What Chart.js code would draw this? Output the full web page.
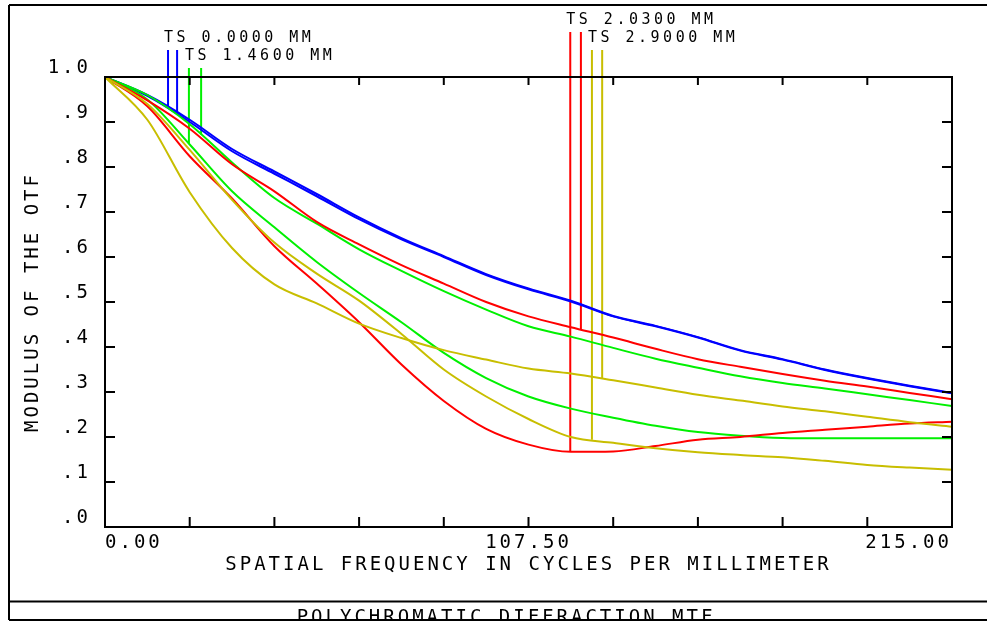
<!DOCTYPE html>
<html>
<head>
<meta charset="utf-8">
<script src="https://cdn.jsdelivr.net/npm/chart.js@4/dist/chart.umd.min.js"></script>
<style>
  html, body { margin: 0; padding: 0; background: #fff; }
  canvas { display: block; }
</style>
</head>
<body>
<canvas id="mtf" width="987" height="626"></canvas>
<script>
// spatial frequency samples (cycles/mm)
var freq = [0, 10.75, 21.5, 32.25, 43, 53.75, 64.5, 75.25, 86, 96.75, 107.5,
            118.25, 129, 139.75, 150.5, 161.25, 172, 182.75, 193.5, 204.25, 215];

// MTF per field, tangential / sagittal
var blueT   = [1.0, 0.96, 0.905, 0.84, 0.79, 0.74, 0.688, 0.642, 0.602, 0.562, 0.53,
               0.503, 0.469, 0.447, 0.422, 0.393, 0.373, 0.35, 0.331, 0.314, 0.298];
var blueS   = [1.0, 0.958, 0.9, 0.835, 0.785, 0.735, 0.684, 0.639, 0.6, 0.56, 0.528,
               0.501, 0.468, 0.446, 0.421, 0.392, 0.372, 0.349, 0.33, 0.313, 0.297];
var greenT  = [1.0, 0.96, 0.895, 0.81, 0.731, 0.674, 0.617, 0.569, 0.524, 0.483, 0.446,
               0.423, 0.398, 0.374, 0.354, 0.335, 0.32, 0.308, 0.295, 0.282, 0.269];
var greenS  = [1.0, 0.95, 0.85, 0.746, 0.666, 0.589, 0.52, 0.455, 0.387, 0.331, 0.29,
               0.263, 0.243, 0.225, 0.211, 0.203, 0.198, 0.197, 0.197, 0.197, 0.197];
var redT    = [1.0, 0.948, 0.885, 0.806, 0.746, 0.678, 0.628, 0.582, 0.541, 0.5, 0.468,
               0.444, 0.421, 0.396, 0.373, 0.356, 0.34, 0.325, 0.312, 0.298, 0.284];
var redS    = [1.0, 0.935, 0.824, 0.73, 0.624, 0.541, 0.455, 0.361, 0.28, 0.218, 0.183,
               0.167, 0.168, 0.18, 0.194, 0.2, 0.209, 0.216, 0.223, 0.23, 0.234];
var yellowT = [1.0, 0.905, 0.744, 0.62, 0.539, 0.497, 0.452, 0.42, 0.393, 0.372, 0.352,
               0.341, 0.326, 0.31, 0.294, 0.281, 0.268, 0.257, 0.245, 0.233, 0.223];
var yellowS = [1.0, 0.94, 0.838, 0.727, 0.632, 0.563, 0.503, 0.429, 0.35, 0.29, 0.24,
               0.2, 0.187, 0.175, 0.166, 0.16, 0.155, 0.147, 0.138, 0.132, 0.127];

// field legend markers
var legendNames = ['TS 0.0000 MM', 'TS 1.4600 MM', 'TS 2.0300 MM', 'TS 2.9000 MM'];
var legendFreqs = [[16.0, 18.3], [21.3, 24.4], [118.1, 120.8], [123.6, 126.2]];
var legendTops  = [1.06, 1.02, 1.10, 1.06];
var legendEnds  = [[0.933, 0.918], [0.852, 0.872], [0.167, 0.439], [0.194, 0.33]];

var xTickLabels = { '0': '0.00', '107.5': '107.50', '215': '215.00' };

var BLUE = 'rgb(0,0,255)', GREEN = 'rgb(0,240,0)', RED = 'rgb(255,0,0)', YELLOW = 'rgb(200,190,0)';
var fieldColors = [BLUE, GREEN, RED, YELLOW];
var MONO = '"DejaVu Sans Mono", "Liberation Mono", monospace';

function pts(vals) {
    return freq.map(function(f, i) { return { x: f, y: vals[i] }; });
}

function curve(vals, color) {
    return {
        data: pts(vals),
        borderColor: color,
        borderWidth: 2,
        pointRadius: 0,
        fill: false,
        cubicInterpolationMode: 'monotone'
    };
}

var datasets = [
    curve(yellowS, YELLOW), curve(yellowT, YELLOW),
    curve(redS, RED), curve(redT, RED),
    curve(greenS, GREEN), curve(greenT, GREEN),
    curve(blueS, BLUE), curve(blueT, BLUE)
];

legendFreqs.forEach(function(pair, k) {
    pair.forEach(function(f, j) {
        datasets.push({
            data: [{ x: f, y: legendTops[k] }, { x: f, y: legendEnds[k][j] }],
            borderColor: fieldColors[k],
            borderWidth: 2,
            pointRadius: 0,
            clip: false
        });
    });
});

var framePlugin = {
    id: 'frame',
    beforeDraw: function(chart) {
        var c = chart.ctx;
        c.save();
        c.fillStyle = '#fff';
        c.fillRect(0, 0, chart.width, chart.height);
        c.restore();
        c.letterSpacing = '3px';
    },
    afterDatasetsDraw: function(chart) {
        var c = chart.ctx, a = chart.chartArea;
        var xs = chart.scales.x, ys = chart.scales.y;
        c.save();
        c.strokeStyle = '#000';
        c.lineWidth = 2;
        c.strokeRect(a.left, a.top, a.right - a.left, a.bottom - a.top);

        c.beginPath();
        for (var i = 1; i < 10; i++) {
            var yp = ys.getPixelForValue(i / 10);
            c.moveTo(a.left, yp); c.lineTo(a.left + 10, yp);
            c.moveTo(a.right, yp); c.lineTo(a.right - 10, yp);
            var xp = xs.getPixelForValue(i * 21.5);
            c.moveTo(xp, a.bottom); c.lineTo(xp, a.bottom - 10);
            c.moveTo(xp, a.top); c.lineTo(xp, a.top + 8);
        }
        c.stroke();

        // field labels
        c.fillStyle = '#000';
        c.font = '15px ' + MONO;
        c.letterSpacing = '3.5px';
        c.textAlign = 'left';
        c.textBaseline = 'middle';
        legendNames.forEach(function(name, k) {
            var x = xs.getPixelForValue(legendFreqs[k][0]) - 4;
            var y = ys.getPixelForValue(legendTops[k]) - 12;
            c.fillText(name, x, y);
        });

        // outer frame and bottom caption box
        c.beginPath();
        c.moveTo(9, 5); c.lineTo(chart.width, 5);
        c.moveTo(9, 5); c.lineTo(9, 620);
        c.moveTo(9, 601.5); c.lineTo(chart.width, 601.5);
        c.moveTo(9, 620); c.lineTo(chart.width, 620);
        c.stroke();

        c.beginPath();
        c.rect(10, 603, chart.width, 16);
        c.clip();
        c.font = '19px ' + MONO;
        c.letterSpacing = '3px';
        c.textAlign = 'center';
        c.textBaseline = 'top';
        c.fillText('POLYCHROMATIC DIFFRACTION MTF', 506, 609);
        c.restore();
    }
};

var ctx = document.getElementById('mtf').getContext('2d');
var chart = new Chart(ctx, {
    type: 'line',
    data: { datasets: datasets },
    options: {
        responsive: false,
        animation: false,
        events: [],
        layout: { padding: { left: 0, right: 35, top: 77, bottom: 0 } },
        plugins: { legend: { display: false }, tooltip: { enabled: false } },
        scales: {
            x: {
                type: 'linear',
                min: 0,
                max: 215,
                afterFit: function(s) { s.height = 99; },
                grid: { display: false, drawTicks: false },
                border: { display: false },
                ticks: {
                    stepSize: 21.5,
                    autoSkip: false,
                    maxRotation: 0,
                    align: 'inner',
                    padding: 5,
                    color: '#000',
                    font: { family: MONO, size: 19 },
                    callback: function(v) {
                        var key = String(Math.round(v * 10) / 10);
                        return xTickLabels[key] || '';
                    }
                },
                title: {
                    display: true,
                    text: 'SPATIAL FREQUENCY IN CYCLES PER MILLIMETER',
                    color: '#000',
                    font: { family: MONO, size: 19, lineHeight: 1.2 },
                    padding: { top: 0, bottom: 49.6 }
                }
            },
            y: {
                min: 0,
                max: 1,
                afterFit: function(s) { s.width = 105; },
                grid: { display: false, drawTicks: false },
                border: { display: false },
                ticks: {
                    stepSize: 0.1,
                    padding: 14,
                    labelOffset: -9,
                    color: '#000',
                    font: { family: MONO, size: 19 },
                    callback: function(v) {
                        return v >= 0.999 ? '1.0' : '.' + Math.round(v * 10);
                    }
                },
                title: {
                    display: true,
                    text: 'MODULUS OF THE OTF',
                    color: '#000',
                    font: { family: MONO, size: 19, lineHeight: 1.2 },
                    padding: { top: 21.6, bottom: 0 }
                }
            }
        }
    },
    plugins: [framePlugin]
});
</script>
</body>
</html>
